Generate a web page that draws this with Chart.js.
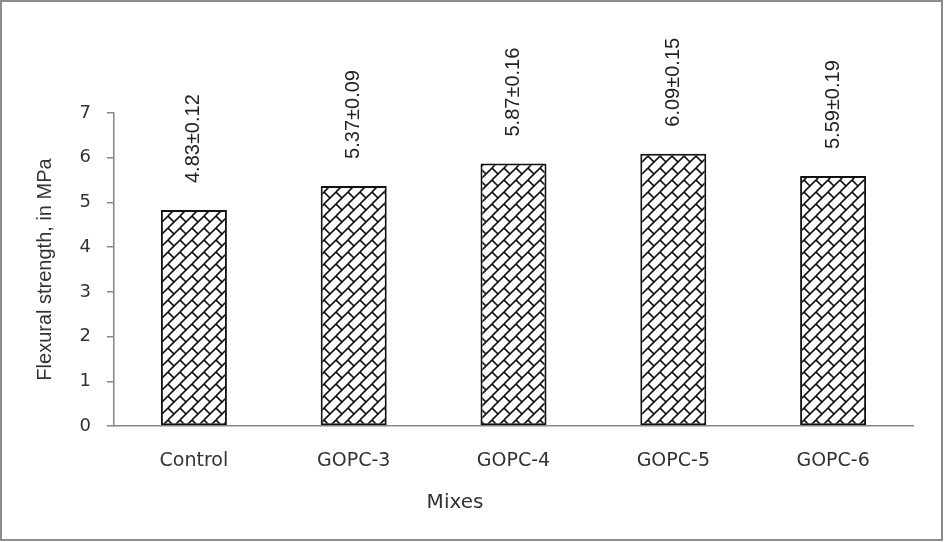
<!DOCTYPE html>
<html>
<head>
<meta charset="utf-8">
<script src="https://cdn.jsdelivr.net/npm/chart.js@4.4.1/dist/chart.umd.min.js"></script>
<style>
  html, body { margin: 0; padding: 0; background: #fff; }
  #wrap { width: 944px; height: 542px; position: relative; }
</style>
</head>
<body>
<div id="wrap"><canvas id="c" width="944" height="542"></canvas></div>
<script>
// Flexural strength of the mixes (MPa) with standard deviation
const mixes = ['Control', 'GOPC-3', 'GOPC-4', 'GOPC-5', 'GOPC-6'];
const strength = [4.83, 5.37, 5.87, 6.09, 5.59];
const deviation = [0.12, 0.09, 0.16, 0.15, 0.19];
const yTicks = [0, 1, 2, 3, 4, 5, 6, 7];

const valueLabels = strength.map((v, i) => v.toFixed(2) + '±' + deviation[i].toFixed(2));

// Diagonal brick hatch: rows running up-right with staggered cross joints
function brickPattern() {
  const P = 12;
  const cv = document.createElement('canvas');
  cv.width = P; cv.height = P;
  const g = cv.getContext('2d');
  g.fillStyle = '#ffffff';
  g.fillRect(0, 0, P, P);
  g.strokeStyle = '#111';
  g.lineWidth = 1.6;
  g.lineCap = 'butt';
  for (const dx of [-P, 0, P]) {
    for (const dy of [-P, 0, P]) {
      g.beginPath();
      g.moveTo(dx + 0, dy + P);
      g.lineTo(dx + P, dy + 0);
      g.stroke();
      g.beginPath();
      g.moveTo(dx + 0, dy + 0);
      g.lineTo(dx + P / 2, dy + P / 2);
      g.stroke();
    }
  }
  return g.createPattern(cv, 'repeat');
}

const frame = {
  id: 'frame',
  beforeDraw(chart) {
    const ctx = chart.ctx;
    ctx.save();
    ctx.fillStyle = '#ffffff';
    ctx.fillRect(0, 0, chart.width, chart.height);
    ctx.restore();
  },
  afterDraw(chart) {
    const ctx = chart.ctx;
    ctx.save();
    ctx.strokeStyle = '#8c8c8c';
    ctx.lineWidth = 2;
    ctx.strokeRect(1, 1, 941, 539);
    // category axis title, sitting slightly left of the plot centre
    ctx.font = '20px "DejaVu Sans", sans-serif';
    ctx.fillStyle = '#333';
    ctx.textAlign = 'center';
    ctx.textBaseline = 'middle';
    ctx.fillText('Mixes', chart.width / 2 - 17, 503);
    ctx.restore();
  }
};

const barValues = {
  id: 'barValues',
  afterDatasetsDraw(chart) {
    const ctx = chart.ctx;
    const meta = chart.getDatasetMeta(0);
    ctx.save();
    ctx.font = '20px "Liberation Sans", Arial, sans-serif';
    ctx.fillStyle = '#222';
    ctx.textAlign = 'left';
    ctx.textBaseline = 'middle';
    meta.data.forEach((bar, i) => {
      ctx.save();
      ctx.translate(bar.x, bar.y - 27);
      ctx.rotate(-Math.PI / 2);
      ctx.fillText(valueLabels[i], 0, 0);
      ctx.restore();
    });
    ctx.restore();
  }
};

new Chart(document.getElementById('c'), {
  type: 'bar',
  data: {
    labels: mixes,
    datasets: [{
      data: strength,
      backgroundColor: brickPattern(),
      borderColor: '#111',
      borderWidth: 2,
      borderSkipped: false,
      barPercentage: 0.413,
      categoryPercentage: 1.0
    }]
  },
  options: {
    responsive: false,
    devicePixelRatio: 1,
    animation: false,
    layout: { padding: { left: 0, top: 113, right: 31, bottom: 0 } },
    plugins: { legend: { display: false }, tooltip: { enabled: false } },
    scales: {
      x: {
        grid: { display: false, drawTicks: false },
        border: { display: true, color: '#888', width: 1.5 },
        ticks: {
          color: '#333',
          padding: 24,
          font: { family: '"DejaVu Sans", sans-serif', size: 19 }
        },
        afterFit(s) { s.height = 116; }
      },
      y: {
        min: yTicks[0],
        max: yTicks[yTicks.length - 1],
        afterBuildTicks(s) { s.ticks = yTicks.map(v => ({ value: v })); },
        grid: { drawOnChartArea: false, drawTicks: true, tickLength: 7, color: '#888', lineWidth: 1.5 },
        border: { display: true, color: '#888', width: 1.5 },
        ticks: {
          color: '#333',
          padding: 16,
          font: { family: '"DejaVu Sans", sans-serif', size: 18 }
        },
        title: {
          display: true,
          text: 'Flexural strength, in MPa',
          color: '#333',
          padding: { top: 33, bottom: 0 },
          font: { family: '"Liberation Sans", Arial, sans-serif', size: 20 }
        },
        afterFit(s) { s.width = 114; }
      }
    }
  },
  plugins: [frame, barValues]
});
</script>
</body>
</html>
